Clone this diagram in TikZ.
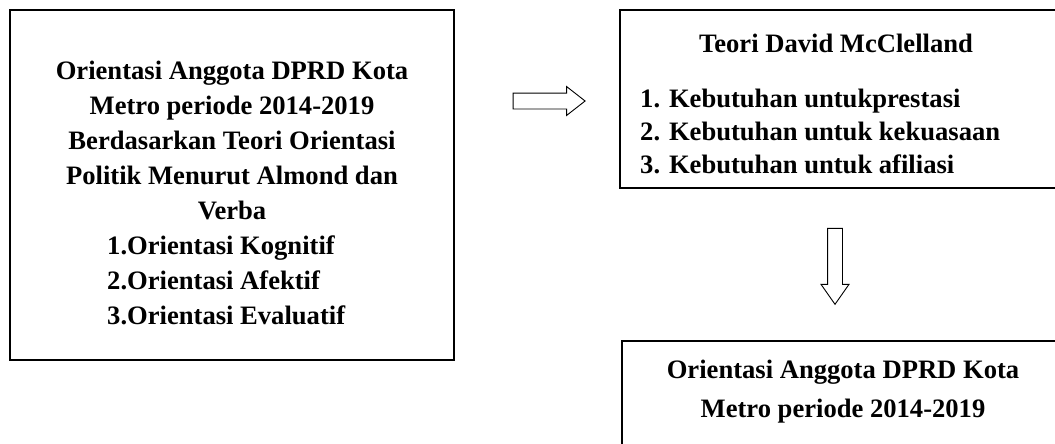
\documentclass[tikz,border=0pt]{standalone}
\usepackage{fontspec}
\setmainfont{Liberation Serif}
\usetikzlibrary{shapes.arrows}

\begin{document}
\begin{tikzpicture}[x=1pt,y=-1pt,
    kotak/.style={draw, line width=1.1pt, inner sep=0pt},
    teks/.style={inner sep=0pt, font=\fontsize{26.6}{#1}\selectfont\bfseries},
    teks/.default=35,
    panah/.style={draw, line width=0.9pt, single arrow, inner sep=7.5pt,
        single arrow head extend=6.5pt, minimum height=#1}]
    \useasboundingbox (0,0) rectangle (1055,444);
    \clip (0,0) rectangle (1055,444);

    \node[kotak, minimum width=444pt, minimum height=350pt] (almond) at (232,185) {};
    \node[teks, align=center, anchor=base] (almondjudul) at (232,219)
        {Orientasi Anggota DPRD Kota\\Metro periode 2014-2019\\Berdasarkan Teori Orientasi\\Politik Menurut Almond dan\\Verba};
    \node[teks, align=left, anchor=base west] (almondlist) at (107,324)
        {1.Orientasi Kognitif\\2.Orientasi Afektif\\3.Orientasi Evaluatif};

    \node[kotak, minimum width=450pt, minimum height=178pt] (mcc) at (845,99) {};
    \node[teks, anchor=base] (mccjudul) at (836,53) {Teori David McClelland};
    \node[teks=33, align=left, anchor=base west] (mcclist) at (640,173)
        {1. Kebutuhan untukprestasi\\2. Kebutuhan untuk kekuasaan\\3. Kebutuhan untuk afiliasi};

    \node[kotak, minimum width=450pt, minimum height=150pt] (hasil) at (847,416) {};
    \node[teks=39, align=center, anchor=base] (hasiljudul) at (843,417)
        {Orientasi Anggota DPRD Kota\\Metro periode 2014-2019};

    \node[panah=72pt, single arrow tip angle=76] (panahkanan) at (544,101) {};
    \node[panah=76pt, single arrow tip angle=70, inner sep=7pt, rotate=-90] (panahbawah) at (835,261) {};
\end{tikzpicture}
\end{document}
